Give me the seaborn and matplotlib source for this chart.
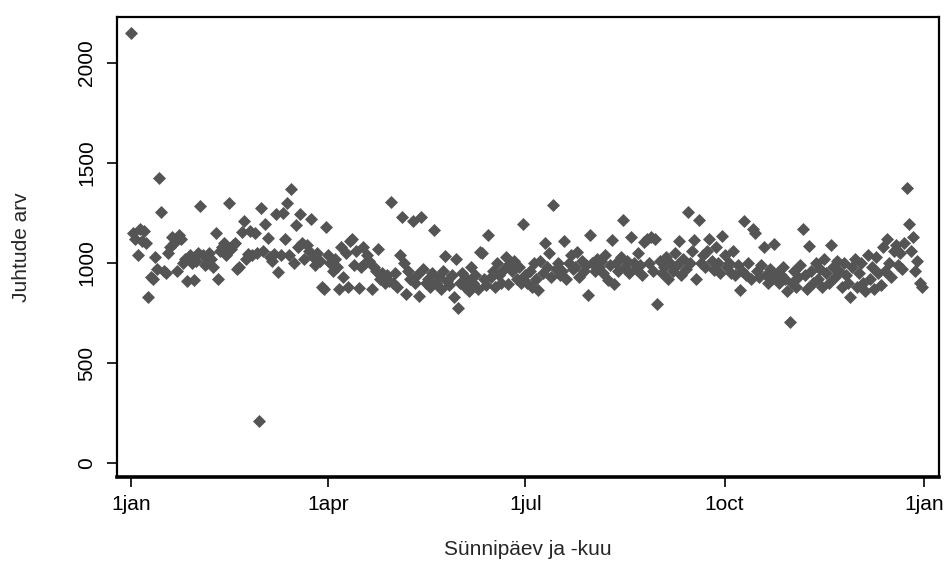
import matplotlib
matplotlib.use("Agg")
import matplotlib.pyplot as plt
import seaborn as sns
import numpy as np
import pandas as pd

# Daily counts by birthday (day 0 = 1 Jan, leap year, 366 days)
jan = [2150, 1150, 1120, 1040, 1170, 1110, 1160, 1100, 830, 930, 920, 1030, 970, 1425, 1255, 960,
       950, 1050, 1080, 1130, 1100, 960, 1140, 1120, 1000, 1020, 910, 1040, 1000, 915, 1010]
feb = [1050, 1285, 1040, 990, 1000, 1050, 1020, 980, 1150, 920, 1060, 1080, 1100, 1040, 1300,
       1070, 1090, 1100, 970, 980, 1155, 1210, 1020, 1045, 1160, 1040, 1150, 1050, 210]
mar = [1275, 1060, 1195, 1125, 1030, 1010, 1045, 1245, 955, 1040, 1250, 1120, 1300, 1040, 1370,
       1000, 1190, 1080, 1245, 1100, 1020, 1090, 1060, 1220, 1030, 990, 1050, 1010, 880, 870, 1180]
apr = [1040, 1000, 960, 1020, 980, 870, 1080, 930, 1050, 880, 1110, 1120, 990, 1060, 875,
       980, 1080, 1000, 1040, 1010, 870, 980, 960, 1070, 920, 950, 900, 940, 910, 1305]
may = [900, 950, 880, 1040, 1230, 1000, 845, 960, 920, 1210, 900, 940, 835, 1230, 970, 900,
       920, 880, 950, 1165, 900, 930, 870, 960, 1035, 910, 890, 940, 830, 1020, 775]
jun = [900, 950, 880, 920, 860, 980, 900, 940, 870, 1055, 1050, 920, 890, 1140, 930,
       960, 880, 1000, 940, 900, 970, 1030, 895, 1000, 960, 1010, 920, 980, 900, 1195]
jul = [940, 900, 960, 880, 1000, 920, 865, 1010, 950, 1100, 980, 1050, 930, 1290, 970, 1000,
       940, 960, 1110, 920, 1000, 1040, 970, 980, 1055, 930, 1010, 960, 990, 840, 1140]
aug = [1000, 960, 1020, 980, 1010, 950, 1040, 915, 990, 1115, 895, 1000, 960, 1030, 1215, 980,
       1010, 950, 1130, 1000, 970, 1050, 990, 940, 1105, 1120, 1000, 1130, 960, 1120, 795]
sep = [1010, 950, 980, 1030, 920, 1000, 960, 1050, 990, 1110, 940, 1020, 970, 1255, 1000,
       1060, 1115, 920, 1215, 1000, 1040, 980, 1060, 1120, 1010, 965, 1080, 1000, 950, 1135]
oct_ = [1040, 980, 1000, 950, 1060, 940, 990, 865, 960, 1210, 940, 1000, 920, 1170, 1150, 960,
        930, 990, 1080, 940, 900, 970, 920, 1095, 950, 900, 940, 980, 920, 860, 705]
nov = [900, 960, 880, 930, 990, 1170, 940, 870, 1085, 960, 900, 1000, 920, 970, 880,
       1020, 950, 900, 1090, 980, 930, 1010, 960, 880, 1000, 940, 900, 830, 980, 1020]
dec = [880, 950, 1000, 900, 860, 1040, 920, 980, 870, 1030, 950, 890, 1080, 960, 1120, 1000,
       930, 1060, 1090, 990, 1050, 970, 1100, 1375, 1195, 1060, 1130, 960, 1010, 900, 880]

tick_days = [0, 91, 182, 274, 366]
tick_labels = ["1jan", "1apr", "1jul", "1oct", "1jan"]
y_ticks = [0, 500, 1000, 1500, 2000]

counts = jan + feb + mar + apr + may + jun + jul + aug + sep + oct_ + nov + dec
df = pd.DataFrame({"day": np.arange(len(counts)), "count": counts})

sns.set_style("white")
plt.rcParams["font.family"] = ["Liberation Sans Narrow", "Liberation Sans", "DejaVu Sans"]

fig = plt.figure(figsize=(9.48, 5.68), dpi=100)
ax = fig.add_axes([117 / 948, 1 - 477 / 568, (939 - 117) / 948, (477 - 17) / 568])

sns.scatterplot(data=df, x="day", y="count", ax=ax, marker="D", s=44,
                color="#545454", linewidth=0, legend=False)

ax.set_xlim(-6.5, 373)
ax.set_ylim(-70, 2230)
ax.set_xticks(tick_days)
ax.set_xticklabels(tick_labels)
ax.set_yticks(y_ticks)
ax.set_yticklabels([str(v) for v in y_ticks], rotation=90, va="center")

for sp in ax.spines.values():
    sp.set_visible(True)
    sp.set_color("black")
    sp.set_linewidth(1.6)
ax.spines["bottom"].set_linewidth(2.6)

ax.tick_params(axis="both", direction="out", length=7, width=1.2, color="black",
               labelsize=15, labelcolor="black", bottom=True, left=True)
ax.tick_params(axis="x", pad=6)
ax.tick_params(axis="y", pad=8)

ax.set_xlabel("Sünnipäev ja -kuu", fontsize=15, labelpad=19)
ax.set_ylabel("Juhtude arv", fontsize=15, labelpad=33)

fig.savefig("out.png", dpi=100, facecolor="white")
